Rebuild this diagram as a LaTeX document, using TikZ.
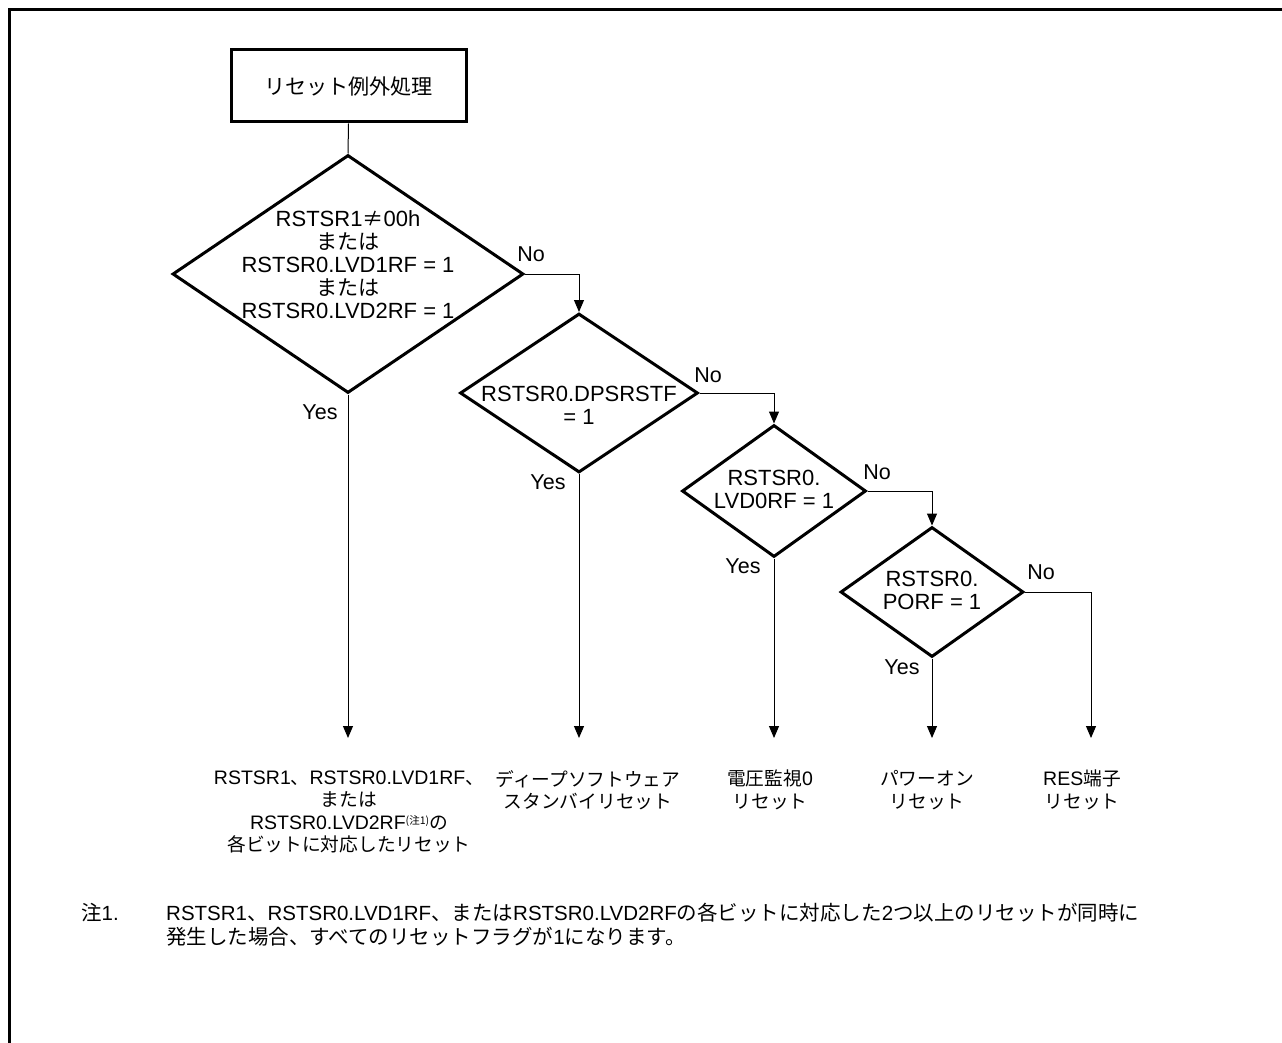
\documentclass[tikz,border=0pt]{standalone}
\usepackage{fontspec}
\setmainfont{Liberation Sans}
\newfontfamily\jp[Scale=0.96]{Noto Sans CJK JP}
\newfontfamily\jpf{Noto Sans CJK JP}
\usetikzlibrary{shapes.geometric,arrows.meta,calc}
\newcommand{\J}[1]{{\jp #1}}
\newcommand{\JF}[1]{{\jpf #1}}
\newcommand{\fsz}[2]{\fontsize{#1}{#2}\selectfont}
\begin{document}
\begin{tikzpicture}[x=1pt,y=-1pt,
  startbox/.style={draw,line width=3pt,minimum width=235pt,minimum height=72pt,inner sep=0pt,font=\fsz{22}{24}},
  dia/.style={draw,diamond,line width=3pt,inner sep=0pt,line join=miter},
  dtxt/.style={inner sep=0pt,align=center,font=\fsz{22}{23}},
  conn/.style={line width=1pt},
  arr/.style={conn,-{Triangle[length=12pt,width=10pt]}},
  yn/.style={inner sep=0pt,font=\fsz{21.5}{24}},
  lbl/.style={inner sep=0pt,align=center,font=\fsz{19.5}{22.5}},
  fn/.style={inner sep=0pt,anchor=base west,font=\fsz{20.5}{24}}
]
\useasboundingbox (0,0) rectangle (1282,1043);
% frame
\draw[line width=3pt] (9.5,1043) -- (9.5,9.5) -- (1282,9.5);

% start
\node[startbox] (start) at (348.5,86) {\J{リセット例外処理}};

% diamonds
\node[dia,minimum width=351pt,minimum height=238pt] (d1) at (348,274) {};
\node[dia,minimum width=238pt,minimum height=159pt] (d2) at (579,393) {};
\node[dia,minimum width=184pt,minimum height=132pt] (d3) at (774,491) {};
\node[dia,minimum width=183pt,minimum height=130pt] (d4) at (932,592) {};

\node[dtxt] (t1) at (348,265) {RSTSR1\J{≠}00h\\ \J{または}\\ RSTSR0.LVD1RF = 1\\ \J{または}\\ RSTSR0.LVD2RF = 1};
\node[dtxt] (t2) at (579,405) {RSTSR0.DPSRSTF\\ = 1};
\node[dtxt] (t3) at (774,489) {RSTSR0.\\ LVD0RF = 1};
\node[dtxt] (t4) at (932,590) {RSTSR0.\\ PORF = 1};

% end points
\coordinate (e1) at (348,738);
\coordinate (e2) at (579,738);
\coordinate (e3) at (774,738);
\coordinate (e4) at (932,738);
\coordinate (e5) at (1091,738);

% connectors
\draw[conn] (start.south) -- (d1.north);
\draw[arr] (d1.east) -| (d2.north);
\draw[arr] (d2.east) -| (d3.north);
\draw[arr] (d3.east) -| (d4.north);
\draw[arr] (d4.east) -| (e5);
\draw[arr] (d1.south) -- (e1);
\draw[arr] (d2.south) -- (e2);
\draw[arr] (d3.south) -- (e3);
\draw[arr] (d4.south) -- (e4);

% yes / no
\node[yn] (no1) at (531,254) {No};
\node[yn] (yes1) at (320,412) {Yes};
\node[yn] (no2) at (708,375) {No};
\node[yn] (yes2) at (548,482) {Yes};
\node[yn] (no3) at (877,472) {No};
\node[yn] (yes3) at (743,566) {Yes};
\node[yn] (no4) at (1041,572) {No};
\node[yn] (yes4) at (902,667) {Yes};

% result labels
\node[lbl] (r1) at (349,812) {RSTSR1\J{、}RSTSR0.LVD1RF\J{、}\\ \J{または}\\ RSTSR0.LVD2RF\raisebox{5pt}{\J{\fsz{11}{11}(注1)}}\J{の}\\ \J{各ビットに対応したリセット}};
\node[lbl] (r2) at (588,790) {\J{ディープソフトウェア}\\ \J{スタンバイリセット}};
\node[lbl] (r3) at (770,790) {\J{電圧監視}0\\ \J{リセット}};
\node[lbl] (r4) at (927,790) {\J{パワーオン}\\ \J{リセット}};
\node[lbl] (r5) at (1082,790) {RES\J{端子}\\ \J{リセット}};

% footnote
\node[fn] (n0) at (81,920) {\JF{注}1.};
\node[fn] (n1) at (166,920) {RSTSR1\JF{、}RSTSR0.LVD1RF\JF{、または}RSTSR0.LVD2RF\JF{の各ビットに対応した}2\JF{つ以上のリセットが同時に}};
\node[fn] (n2) at (166,944) {\JF{発生した場合、すべてのリセットフラグが}1\JF{になります。}};
\end{tikzpicture}
\end{document}
